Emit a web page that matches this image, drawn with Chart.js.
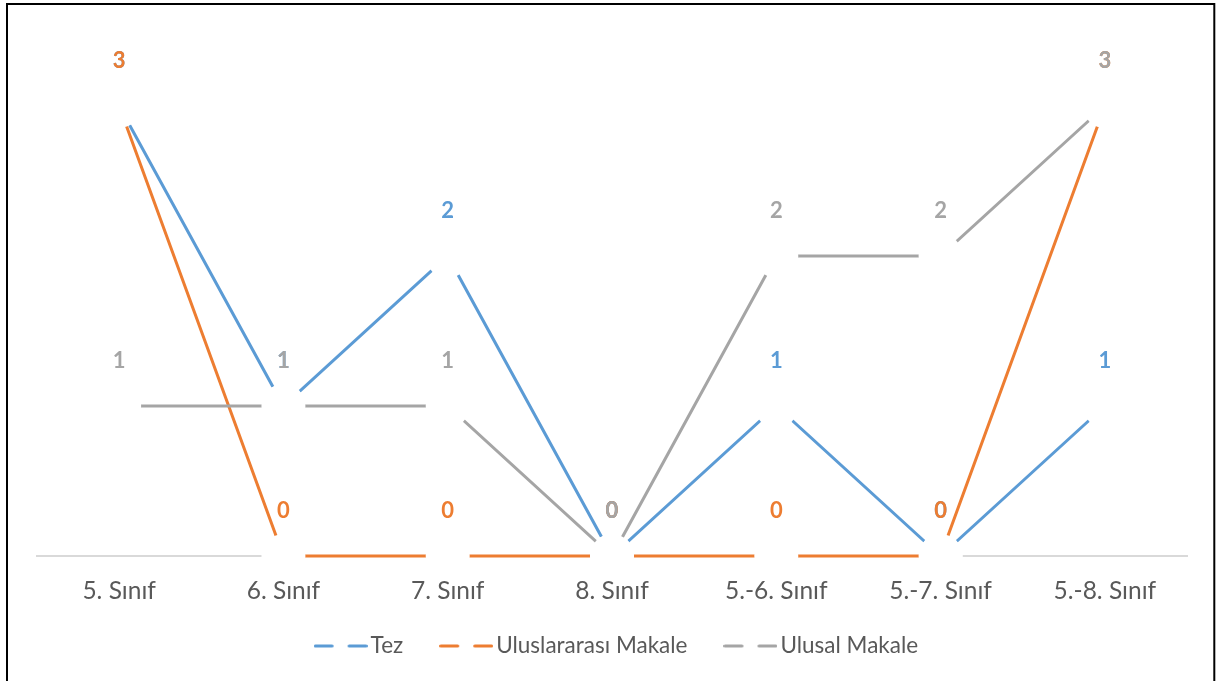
<!DOCTYPE html>
<html>
<head>
<meta charset="utf-8">
<title>Sınıf düzeyine göre yayın türleri</title>
<script src="https://cdn.jsdelivr.net/npm/chart.js@4.4.1/dist/chart.umd.min.js"></script>
<style>
  html, body { margin: 0; padding: 0; background: #ffffff; }
  #wrap { position: relative; width: 1217px; height: 681px; }
  canvas { display: block; }
</style>
</head>
<body>
<div id="wrap"><canvas id="chart" width="1217" height="681"></canvas></div>
<script>
// Categories (grade levels) and the count of studies per publication type
const categories = ['5. Sınıf', '6. Sınıf', '7. Sınıf', '8. Sınıf', '5.-6. Sınıf', '5.-7. Sınıf', '5.-8. Sınıf'];
const tezValues = [3, 1, 2, 0, 1, 0, 1];
const uluslararasiValues = [3, 0, 0, 0, 0, 0, 3];
const ulusalValues = [1, 1, 1, 0, 2, 2, 3];
const seriesNames = ['Tez', 'Uluslararası Makale', 'Ulusal Makale'];

const COLORS = ['#5B9BD5', '#ED7D31', '#A5A5A5'];
const TEXT_GRAY = '#595959';
const FONT = 'Lato, "Open Sans", "Noto Sans", sans-serif';

// Legend swatch: a line broken in the middle by the (white) marker
function legendSwatch(color) {
  const c = document.createElement('canvas');
  c.width = 54; c.height = 6;
  const g = c.getContext('2d');
  g.strokeStyle = color;
  g.lineWidth = 3;
  g.lineCap = 'round';
  g.beginPath();
  g.moveTo(1.5, 3); g.lineTo(18.5, 3);
  g.moveTo(35.5, 3); g.lineTo(52.5, 3);
  g.stroke();
  return c;
}

function makeDataset(label, data, color, order) {
  return {
    label: label,
    data: data,
    borderColor: color,
    backgroundColor: color,
    borderWidth: 3,
    tension: 0,
    pointRadius: 22,
    pointHoverRadius: 22,
    pointBackgroundColor: '#ffffff',
    pointBorderWidth: 0,
    pointBorderColor: 'rgba(0,0,0,0)',
    clip: false,
    order: order
  };
}

// Value labels drawn above every point, series after series
const valueLabels = {
  id: 'valueLabels',
  afterDatasetsDraw(chart) {
    const ctx = chart.ctx;
    ctx.save();
    ctx.font = 'bold 22px ' + FONT;
    ctx.textAlign = 'center';
    ctx.textBaseline = 'middle';
    chart.data.datasets.forEach((ds, i) => {
      const meta = chart.getDatasetMeta(i);
      ctx.fillStyle = COLORS[i];
      meta.data.forEach((pt, j) => {
        ctx.fillText(String(ds.data[j]), pt.x, pt.y - 45);
      });
    });
    ctx.restore();
  }
};

// Legend row sits closer to the axis labels than its wide item spacing implies
const legendPlacement = {
  id: 'legendPlacement',
  afterLayout(chart) {
    const lg = chart.legend;
    if (!lg) return;
    const h = lg.bottom - lg.top;
    lg.top = 590.5;
    lg.bottom = lg.top + h;
    lg.left += 8;
    lg.right += 8;
  }
};

// White page with a thin black frame
const pageFrame = {
  id: 'pageFrame',
  beforeDraw(chart) {
    const ctx = chart.ctx;
    ctx.save();
    ctx.fillStyle = '#ffffff';
    ctx.fillRect(0, 0, chart.width, chart.height);
    ctx.restore();
  },
  afterDraw(chart) {
    const ctx = chart.ctx;
    ctx.save();
    ctx.strokeStyle = '#000000';
    ctx.lineWidth = 2;
    ctx.strokeRect(7, 4, 1207.3, 720);
    ctx.restore();
  }
};

const swatches = COLORS.map(legendSwatch);

new Chart(document.getElementById('chart'), {
  type: 'line',
  data: {
    labels: categories,
    datasets: [
      makeDataset(seriesNames[0], tezValues, COLORS[0], 3),
      makeDataset(seriesNames[1], uluslararasiValues, COLORS[1], 2),
      makeDataset(seriesNames[2], ulusalValues, COLORS[2], 1)
    ]
  },
  options: {
    responsive: false,
    devicePixelRatio: 1,
    animation: false,
    events: [],
    layout: { padding: { left: 37, right: 30, top: 31, bottom: 0 } },
    scales: {
      x: {
        offset: true,
        grid: { display: false, drawTicks: false },
        border: { display: true, color: '#D9D9D9', width: 2 },
        ticks: {
          color: TEXT_GRAY,
          font: { family: FONT, size: 24.5 },
          padding: 20.3,
          maxRotation: 0,
          autoSkip: false
        },
        afterFit(scale) { scale.height = 48.25; }
      },
      y: {
        display: false,
        min: 0,
        max: 3.5
      }
    },
    plugins: {
      tooltip: { enabled: false },
      legend: {
        display: true,
        position: 'bottom',
        labels: {
          color: TEXT_GRAY,
          font: { family: FONT, size: 22.5 },
          usePointStyle: true,
          pointStyleWidth: 37.5,
          padding: 44.25,
          generateLabels(chart) {
            return chart.data.datasets.map((ds, i) => ({
              text: ds.label,
              fillStyle: COLORS[i],
              strokeStyle: COLORS[i],
              lineWidth: 0,
              pointStyle: swatches[i],
              hidden: false,
              datasetIndex: i,
              fontColor: TEXT_GRAY
            }));
          }
        }
      }
    }
  },
  plugins: [pageFrame, valueLabels, legendPlacement]
});
</script>
</body>
</html>
